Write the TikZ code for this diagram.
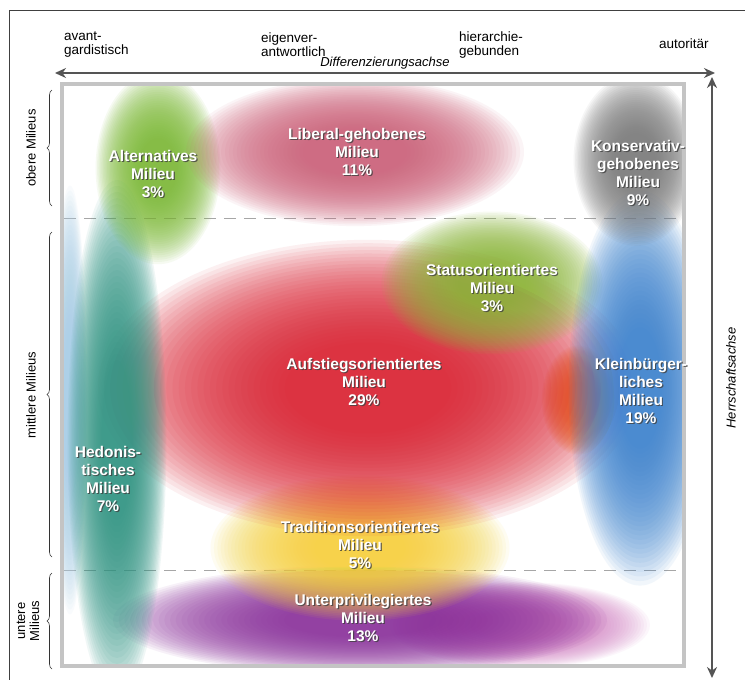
\documentclass[tikz,border=0pt]{standalone}
\usepackage{fontspec}
\setmainfont{Liberation Sans}
\usetikzlibrary{arrows.meta,decorations.pathreplacing}
\definecolor{axisgrey}{HTML}{555555}
\definecolor{boxgrey}{HTML}{C4C4C4}
\definecolor{cPurple}{HTML}{8A2E9C}
\definecolor{cPink}{HTML}{D47EC4}
\definecolor{cYellow}{HTML}{F7D23A}
\definecolor{cOrange}{HTML}{F4A030}
\definecolor{cRed}{HTML}{DC1E2E}
\definecolor{cOlive}{HTML}{8DB83A}
\definecolor{cTeal}{HTML}{2C9482}
\definecolor{cBlue}{HTML}{3A82D0}
\definecolor{cGreen}{HTML}{7CBB34}
\definecolor{cRose}{HTML}{CE5F79}
\definecolor{cGrey}{HTML}{7A7A7A}
\definecolor{cSky}{HTML}{A8D0E8}
\newcommand\myblob[5]{%
  \foreach \s in {1.3,1.27,...,0.4}{%
    \fill[#5, fill opacity=0.065] (#1,#2) ellipse [x radius={\s*#3 pt}, y radius={\s*#4 pt}];
  }}
\tikzset{
  lbl/.style={text=white, align=center, font=\fontsize{15.5}{18}\selectfont\bfseries, inner sep=0pt},
  lblsh/.style={lbl, text=black!75, text opacity=0.8},
  toplbl/.style={align=left, anchor=west, font=\fontsize{13.5}{14}\selectfont, inner sep=0pt},
  axislbl/.style={font=\fontsize{13}{15}\selectfont\itshape, inner sep=0pt},
  sidelbl/.style={align=center, font=\fontsize{13}{14}\selectfont, inner sep=0pt, rotate=90},
  axis/.style={draw=axisgrey, line width=2.2pt, {Stealth[length=11pt,width=10pt]}-{Stealth[length=11pt,width=10pt]}},
  bracestyle/.style={draw=black!80, line width=0.6pt, decorate, decoration={brace, amplitude=5pt}},
  divider/.style={draw=black!35, line width=1pt, dash pattern=on 12pt off 8pt},
}
\newcommand\milieu[4]{%
  \node[lblsh] (#1-s) at (#2+1.2,#3+1.2) {#4};
  \node[lbl] (#1) at (#2,#3) {#4};}
\begin{document}
\begin{tikzpicture}[x=1pt,y=-1pt]
\useasboundingbox (0,0) rectangle (745,680);
\fill[white] (0,0) rectangle (745,680);
% outer frame
\draw[black!75, line width=0.8pt] (9,680) -- (9,10) -- (745,10);
% main box
\fill[white] (62,84) rectangle (684,666);
\draw[divider] (64,218) -- (682,218);
\draw[divider] (64,570) -- (682,570);
% blobs
\begin{scope}
\clip (63,85) rectangle (683,665);
\myblob{70}{400}{13}{165}{cSky}
\myblob{520}{625}{100}{33}{cPink}
\myblob{360}{620}{190}{42}{cPurple}
\myblob{360}{548}{115}{56}{cYellow}
\myblob{578}{400}{28}{42}{cOrange}
\myblob{368}{388}{208}{114}{cRed}
\myblob{492}{283}{85}{55}{cOlive}
\myblob{117}{440}{38}{200}{cTeal}
\myblob{640}{388}{55}{152}{cBlue}
\myblob{158}{168}{48}{74}{cGreen}
\myblob{355}{152}{130}{57}{cRose}
\myblob{636}{160}{48}{66}{cGrey}
\end{scope}
\draw[boxgrey, line width=4pt] (62,84) rectangle (684,666);
% axes
\coordinate (hl) at (55,73);
\coordinate (hr) at (715,73);
\coordinate (vt) at (712,77);
\coordinate (vb) at (712,678);
\draw[axis] (hl) -- (hr);
\draw[axis] (vb) -- (vt);
\node[axislbl] (diff) at (385,63) {Differenzierungsachse};
\node[axislbl, rotate=90] (herr) at (731,378) {Herrschaftsachse};
% top labels
\node[toplbl] (avant) at (64,45) {avant-\\gardistisch};
\node[toplbl] (eigen) at (261,45) {eigenver-\\antwortlich};
\node[toplbl] (hier) at (459,45) {hierarchie-\\gebunden};
\node[toplbl] (auto) at (659,44) {autoritär};
% braces
\coordinate (o1) at (52,206); \coordinate (o2) at (52,90);
\coordinate (m1) at (52,557); \coordinate (m2) at (52,232);
\coordinate (u1) at (52,669); \coordinate (u2) at (52,573);
\draw[bracestyle] (o1) -- (o2);
\draw[bracestyle] (m1) -- (m2);
\draw[bracestyle] (u1) -- (u2);
\node[sidelbl] (obere) at (31,148) {obere Milieus};
\node[sidelbl] (mittlere) at (31,395) {mittlere Milieus};
\node[sidelbl] (untere) at (28,621) {untere\\Milieus};
% milieu labels
\milieu{alt}{153}{174}{Alternatives\\Milieu\\3\%}
\milieu{lib}{357}{152}{Liberal-gehobenes\\Milieu\\11\%}
\milieu{kon}{638}{173}{Konservativ-\\gehobenes\\Milieu\\9\%}
\milieu{sta}{492}{288}{Statusorientiertes\\Milieu\\3\%}
\milieu{auf}{364}{382}{Aufstiegsorientiertes\\Milieu\\29\%}
\milieu{kle}{641}{391}{Kleinbürger-\\liches\\Milieu\\19\%}
\milieu{hed}{108}{479}{Hedonis-\\tisches\\Milieu\\7\%}
\milieu{tra}{360}{545}{Traditionsorientiertes\\Milieu\\5\%}
\milieu{unt}{363}{618}{Unterprivilegiertes\\Milieu\\13\%}
\end{tikzpicture}
\end{document}
